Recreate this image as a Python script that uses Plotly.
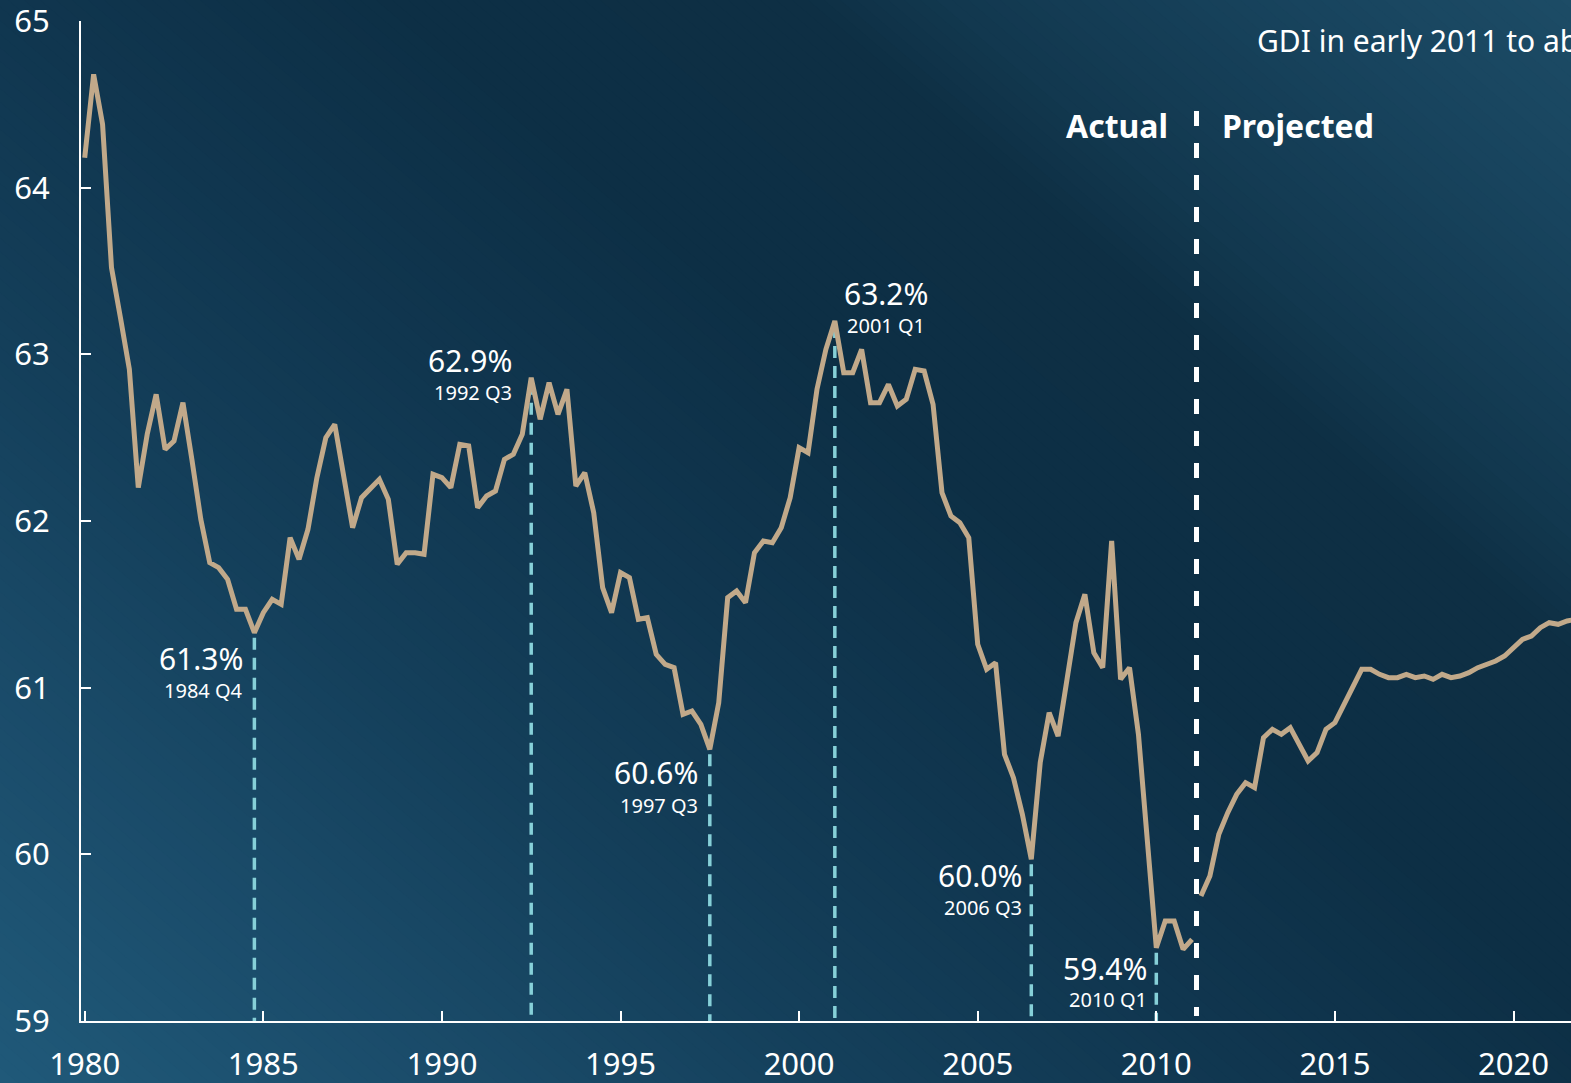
import plotly.graph_objects as go

# ---------------- data ----------------
start_year = 1980  # first quarter is 1980 Q1
actual_share = [
    64.18, 64.68, 64.38, 63.52, 63.22, 62.91, 62.20, 62.52, 62.76, 62.43,
    62.48, 62.71, 62.37, 62.01, 61.75, 61.72, 61.65, 61.47, 61.47, 61.33,
    61.45, 61.53, 61.50, 61.90, 61.77, 61.95, 62.26, 62.50, 62.58, 62.26,
    61.96, 62.14, 62.20, 62.25, 62.13, 61.74, 61.81, 61.81, 61.80, 62.28,
    62.26, 62.20, 62.46, 62.45, 62.08, 62.15, 62.18, 62.37, 62.40, 62.52,
    62.86, 62.61, 62.83, 62.64, 62.79, 62.21, 62.29, 62.05, 61.60, 61.45,
    61.69, 61.66, 61.41, 61.42, 61.20, 61.14, 61.12, 60.84, 60.86, 60.78,
    60.63, 60.91, 61.54, 61.58, 61.51, 61.81, 61.88, 61.87, 61.96, 62.14,
    62.44, 62.41, 62.79, 63.03, 63.20, 62.89, 62.89, 63.03, 62.71, 62.71,
    62.82, 62.69, 62.73, 62.91, 62.90, 62.70, 62.17, 62.03, 61.99, 61.90,
    61.26, 61.11, 61.15, 60.60, 60.46, 60.24, 59.97, 60.55, 60.85, 60.71,
    61.05, 61.39, 61.56, 61.21, 61.12, 61.88, 61.05, 61.12, 60.72, 60.09,
    59.44, 59.60, 59.60, 59.43, 59.49,
]
projected_share = [
    59.75, 59.87, 60.12, 60.25, 60.36, 60.43, 60.40, 60.70, 60.75, 60.72,
    60.76, 60.66, 60.56, 60.61, 60.75, 60.79, 60.90, 61.00, 61.11, 61.11,
    61.08, 61.06, 61.06, 61.08, 61.06, 61.07, 61.05, 61.08, 61.06, 61.07,
    61.09, 61.12, 61.14, 61.16, 61.19, 61.24, 61.29, 61.31, 61.36, 61.39,
    61.38, 61.40, 61.41,
]
peak_quarters = ["1984 Q4", "1992 Q3", "1997 Q3", "2001 Q1", "2006 Q3", "2010 Q1"]
peak_labels = ["61.3%", "62.9%", "60.6%", "63.2%", "60.0%", "59.4%"]
xtick_years = [1980, 1985, 1990, 1995, 2000, 2005, 2010, 2015, 2020]
xtick_labels = ["1980", "1985", "1990", "1995", "2000", "2005", "2010", "2015", "2020"]
ytick_vals = [59, 60, 61, 62, 63, 64, 65]
ytick_labels = ["59", "60", "61", "62", "63", "64", "65"]
label_actual = "Actual"
label_projected = "Projected"
note_text = "GDI in early 2011 to about"

# ---------------- derived positions ----------------
n_act = len(actual_share)
x_actual = [start_year + i / 4 for i in range(n_act)]
x_proj = [start_year + (n_act + i) / 4 for i in range(len(projected_share))]
split_x = (x_actual[-1] + x_proj[0]) / 2


def quarter_index(label):
    y, q = label.split(" Q")
    return (int(y) - start_year) * 4 + int(q) - 1


peak_idx = [quarter_index(q) for q in peak_quarters]
peak_x = [x_actual[i] for i in peak_idx]
peak_y = [actual_share[i] for i in peak_idx]

# ---------------- styling ----------------
W, H = 1571, 1083
ML, MR, MT, MB = 81, 0, 21, 62
PW, PH = W - ML - MR, H - MT - MB
FONT = "Noto Sans"
LINE_COLOR = "#c1a98a"
DROP_COLOR = "#86d0d8"

fig = go.Figure()

# background gradient (diagonal bands)
stops = [
    (-1300, (0x20, 0x5a, 0x7a)),
    (-800, (0x1a, 0x4b, 0x69)),
    (-400, (0x14, 0x3f, 0x5a)),
    (0, (0x10, 0x36, 0x4f)),
    (400, (0x0d, 0x2f, 0x45)),
    (800, (0x0e, 0x2f, 0x44)),
    (950, (0x12, 0x38, 0x4f)),
    (1300, (0x18, 0x44, 0x5e)),
    (1650, (0x1e, 0x4e, 0x68)),
]


def color_at(u):
    if u <= stops[0][0]:
        c = stops[0][1]
    elif u >= stops[-1][0]:
        c = stops[-1][1]
    else:
        for (u0, c0), (u1, c1) in zip(stops[:-1], stops[1:]):
            if u0 <= u <= u1:
                f = (u - u0) / (u1 - u0)
                c = tuple(round(a + (b - a) * f) for a, b in zip(c0, c1))
                break
    return "rgb(%d,%d,%d)" % c


def px2paper(px, py):
    return (px - ML) / PW, (MT + PH - py) / PH


slope = 0.85
step = 16
shapes = []
y0p, y1p = -30, H + 30
u = -1320
while u < 1680:
    u1, u2 = u, u + step + 2
    pts = [
        px2paper(u1 + y0p / slope, y0p),
        px2paper(u2 + y0p / slope, y0p),
        px2paper(u2 + y1p / slope, y1p),
        px2paper(u1 + y1p / slope, y1p),
    ]
    path = "M " + " L ".join("%.5f,%.5f" % p for p in pts) + " Z"
    shapes.append(dict(type="path", path=path, xref="paper", yref="paper",
                       fillcolor=color_at(u + step / 2), line=dict(width=0),
                       layer="below"))
    u += step

# drop lines from peaks / troughs down to the axis
dx, dy = [], []
for xv, yv in zip(peak_x, peak_y):
    dx += [xv, xv, None]
    dy += [yv - 0.03, ytick_vals[0], None]
fig.add_trace(go.Scatter(x=dx, y=dy, mode="lines", hoverinfo="skip",
                         line=dict(color=DROP_COLOR, width=3.5, dash="12px,8px"),
                         showlegend=False))

# actual / projected divider
fig.add_trace(go.Scatter(x=[split_x, split_x], y=[64.46, 59.03], mode="lines",
                         hoverinfo="skip",
                         line=dict(color="white", width=5, dash="15px,17px"),
                         showlegend=False))

fig.add_trace(go.Scatter(x=x_actual, y=actual_share, mode="lines",
                         line=dict(color=LINE_COLOR, width=5), showlegend=False))
fig.add_trace(go.Scatter(x=x_proj, y=projected_share, mode="lines",
                         line=dict(color=LINE_COLOR, width=5), showlegend=False))

# annotations
label_style = [
    dict(anchor="right", dx=-9, big=-26, small=-58),
    dict(anchor="right", dx=-17, big=17, small=-15),
    dict(anchor="right", dx=-10, big=-23, small=-56),
    dict(anchor="center", dx=51, big=28, small=-4),
    dict(anchor="right", dx=-7, big=-16, small=-48),
    dict(anchor="right", dx=-7, big=-21, small=-52),
]
annotations = []
for xv, yv, big, small, st in zip(peak_x, peak_y, peak_labels, peak_quarters, label_style):
    annotations.append(dict(x=xv, y=yv, xref="x", yref="y", text=big, showarrow=False,
                            xanchor=st["anchor"], yanchor="middle", xshift=st["dx"],
                            yshift=st["big"], font=dict(family=FONT, size=30, color="white")))
    annotations.append(dict(x=xv, y=yv, xref="x", yref="y", text=small, showarrow=False,
                            xanchor=st["anchor"], yanchor="middle", xshift=st["dx"],
                            yshift=st["small"], font=dict(family=FONT, size=20, color="white")))

ytext = (MT + PH - 126) / PH
annotations.append(dict(x=split_x, y=ytext, xref="x", yref="paper", text="<b>%s</b>" % label_actual,
                        showarrow=False, xanchor="right", yanchor="middle", xshift=-27,
                        font=dict(family=FONT, size=32, color="white")))
annotations.append(dict(x=split_x, y=ytext, xref="x", yref="paper", text="<b>%s</b>" % label_projected,
                        showarrow=False, xanchor="left", yanchor="middle", xshift=23,
                        font=dict(family=FONT, size=32, color="white")))
nx, ny = px2paper(1255, 40)
annotations.append(dict(x=nx, y=ny, xref="paper", yref="paper", text=note_text,
                        showarrow=False, xanchor="left", yanchor="middle",
                        font=dict(family=FONT, size=30, color="white")))

px_per_year = 35.72
x_lo = x_actual[0] - 0.104
x_hi = x_lo + PW / px_per_year

axis_common = dict(showgrid=False, zeroline=False, showline=True, linecolor="white",
                   linewidth=2, ticks="inside", ticklen=10, tickwidth=2, tickcolor="white",
                   automargin=False, ticklabeloverflow="allow",
                   tickfont=dict(family=FONT, size=31, color="white"))

fig.update_layout(
    width=W, height=H, autosize=False,
    margin=dict(l=ML, r=MR, t=MT, b=MB, pad=0, autoexpand=False),
    paper_bgcolor="#0f3349", plot_bgcolor="rgba(0,0,0,0)",
    shapes=shapes, annotations=annotations, showlegend=False,
    font=dict(family=FONT, color="white"),
    xaxis=dict(range=[x_lo, x_hi], tickvals=xtick_years, ticktext=xtick_labels,
               ticklabelstandoff=15, **axis_common),
    yaxis=dict(range=[59, 65], tickvals=ytick_vals, ticktext=ytick_labels,
               ticklabelstandoff=23, **axis_common),
)

fig.write_html(
    "out.html",
    config={"displayModeBar": False},
    post_script="document.body.style.margin='0';document.body.style.overflow='hidden';",
)
